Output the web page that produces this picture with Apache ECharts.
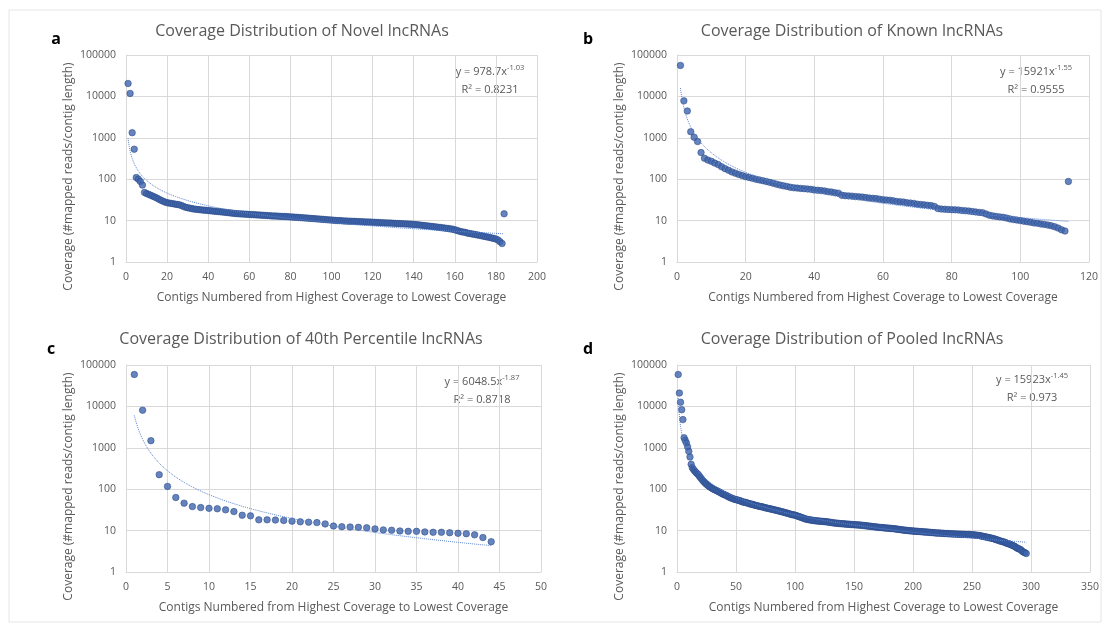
<!DOCTYPE html>
<html>
<head>
<meta charset="utf-8">
<title>Coverage Distribution of lncRNAs</title>
<script src="https://cdn.jsdelivr.net/npm/echarts@6/dist/echarts.min.js"></script>
<style>
html, body { margin: 0; padding: 0; background: #fff; }
#chart { width: 1102px; height: 624px; }
</style>
</head>
<body>
<div id="chart"></div>
<script>
// coverage values, contig 1..N
const novel = [20500, 11800, 1330, 530, 110, 100, 88, 72, 48, 45,
  43, 41, 39, 37, 35, 33, 31, 29.5, 28, 27,
  26.5, 26, 25.5, 25, 24.5, 24, 23, 22, 21, 20.5,
  20, 19.5, 19, 18.8, 18.5, 18.3, 18.1, 17.9, 17.7, 17.5,
  17.3, 17.1, 16.9, 16.7, 16.5, 16.3, 16.1, 15.9, 15.7, 15.5,
  15.3, 15.1, 14.9, 14.7, 14.6, 14.5, 14.4, 14.3, 14.2, 14.1,
  14.0, 13.9, 13.8, 13.7, 13.6, 13.5, 13.4, 13.3, 13.2, 13.1,
  13.0, 12.9, 12.9, 12.8, 12.7, 12.6, 12.6, 12.5, 12.4, 12.3,
  12.2, 12.1, 12.0, 11.9, 11.8, 11.7, 11.6, 11.5, 11.4, 11.3,
  11.2, 11.1, 11.0, 10.9, 10.8, 10.7, 10.6, 10.5, 10.4, 10.3,
  10.2, 10.1, 10.0, 10.0, 9.9, 9.8, 9.8, 9.7, 9.7, 9.6,
  9.6, 9.5, 9.5, 9.4, 9.4, 9.3, 9.3, 9.2, 9.2, 9.1,
  9.1, 9.0, 9.0, 8.9, 8.9, 8.8, 8.8, 8.7, 8.7, 8.6,
  8.6, 8.5, 8.5, 8.4, 8.4, 8.3, 8.3, 8.2, 8.2, 8.1,
  8.0, 7.9, 7.8, 7.7, 7.6, 7.5, 7.4, 7.3, 7.2, 7.1,
  7.0, 6.9, 6.8, 6.7, 6.6, 6.5, 6.4, 6.3, 6.2, 6.0,
  5.8, 5.6, 5.4, 5.3, 5.2, 5.0, 4.9, 4.8, 4.7, 4.6,
  4.5, 4.4, 4.3, 4.2, 4.1, 4.0, 3.9, 3.8, 3.7, 3.6,
  3.4, 3.1, 2.8, 14.6];

const known = [56000, 7800, 4450, 1400, 1030, 810, 440, 320, 290, 270,
  245, 225, 200, 180, 165, 150, 140, 130, 122, 115,
  110, 105, 100, 96, 92, 88, 84, 80, 76, 72,
  69, 67, 64, 62, 61, 60, 59, 58, 57, 55,
  54, 53, 52, 50, 49, 47, 46, 41, 40, 39.5,
  39, 38, 37.5, 37, 36, 35, 34.5, 34, 33, 32,
  31.5, 31, 30, 29, 28.5, 28, 27, 26.5, 26, 25,
  24.5, 24, 23.5, 23, 22, 19.5, 19, 18.8, 18.6, 18.4,
  18.2, 18, 17.6, 17.3, 17, 16.6, 16.2, 15.8, 15.5, 14.5,
  13.5, 13, 12.6, 12.3, 12, 11.5, 11, 10.6, 10.3, 10,
  9.7, 9.4, 9.1, 8.8, 8.6, 8.3, 8.1, 7.8, 7.5, 7.1,
  6.6, 6.0, 5.6, 88];

const pct40 = [59000, 8100, 1490, 224, 117, 63, 46, 38, 36, 34.5,
  33.7, 31.7, 28.8, 23.5, 22.7, 18.2, 18.2, 18, 17.6, 16.9,
  16.3, 16, 15.6, 14.5, 12.9, 12.4, 12.2, 12, 11.7, 11,
  10.4, 10.2, 9.8, 9.6, 9.6, 9.3, 9.1, 9.1, 8.9, 8.6,
  8.4, 7.9, 6.8, 5.4];

const pooled = [59000, 21000, 12600, 8300, 4800, 1750, 1500, 1300, 1050, 820,
  600, 400, 330, 300, 275, 255, 240, 225, 205, 190,
  175, 160, 150, 140, 132, 125, 118, 113, 108, 104,
  100, 97, 94, 91, 88, 85, 82, 79, 76, 74,
  72, 70, 67, 65, 63, 61, 60, 58, 57, 56,
  55, 54, 53, 52, 50, 49, 48.5, 48, 47, 46,
  45, 44, 43.5, 43, 42, 41, 40.5, 40, 39, 38.5,
  38, 37.5, 37, 36, 35.5, 35, 34.5, 34, 33.5, 33,
  32.5, 32, 31.5, 31, 30.5, 30, 29.5, 29, 28.5, 28,
  27.5, 27, 26.5, 26, 25.5, 25, 24.5, 24.2, 24, 23.5,
  23, 22.5, 22, 21.5, 21, 20.5, 20, 19.5, 19, 18.8,
  18.5, 18.3, 18.1, 17.9, 17.7, 17.5, 17.3, 17.2, 17.1, 17,
  16.9, 16.8, 16.7, 16.6, 16.5, 16.4, 16.3, 16.1, 16, 15.8,
  15.6, 15.5, 15.3, 15.2, 15.1, 15, 14.9, 14.8, 14.7, 14.6,
  14.6, 14.5, 14.4, 14.3, 14.3, 14.2, 14.1, 14.0, 14.0, 13.9,
  13.8, 13.8, 13.7, 13.7, 13.6, 13.5, 13.4, 13.3, 13.2, 13.1,
  13.0, 12.9, 12.8, 12.7, 12.6, 12.5, 12.4, 12.3, 12.2, 12.1,
  12.0, 11.9, 11.9, 11.8, 11.7, 11.6, 11.6, 11.5, 11.4, 11.4,
  11.3, 11.2, 11.2, 11.1, 11.0, 10.9, 10.8, 10.7, 10.6, 10.5,
  10.4, 10.3, 10.2, 10.2, 10.1, 10.0, 9.9, 9.9, 9.8, 9.8,
  9.7, 9.7, 9.6, 9.6, 9.5, 9.5, 9.4, 9.4, 9.3, 9.3,
  9.2, 9.2, 9.1, 9.1, 9.0, 9.0, 8.9, 8.9, 8.8, 8.8,
  8.7, 8.7, 8.7, 8.6, 8.6, 8.6, 8.5, 8.5, 8.5, 8.4,
  8.4, 8.4, 8.3, 8.3, 8.3, 8.3, 8.2, 8.2, 8.2, 8.2,
  8.1, 8.1, 8.1, 8.1, 8.0, 8.0, 8.0, 8.0, 7.9, 7.9,
  7.9, 7.8, 7.8, 7.7, 7.7, 7.6, 7.5, 7.4, 7.3, 7.2,
  7.1, 7.0, 6.9, 6.8, 6.7, 6.6, 6.5, 6.4, 6.3, 6.1,
  6.0, 5.9, 5.7, 5.6, 5.5, 5.4, 5.3, 5.2, 5.0, 4.9,
  4.8, 4.7, 4.6, 4.4, 4.3, 4.2, 4.0, 3.8, 3.7, 3.6,
  3.5, 3.3, 3.1, 3.0, 2.9, 2.8];

const panels = [novel, known, pct40, pooled];
const titles = ['Coverage Distribution of Novel lncRNAs', 'Coverage Distribution of Known lncRNAs',
  'Coverage Distribution of 40th Percentile lncRNAs', 'Coverage Distribution of Pooled lncRNAs'];
const letters = ['a', 'b', 'c', 'd'];
const xMax = [200, 120, 50, 350];
const xStep = [20, 20, 5, 50];
// trendline labels as printed on the figure
const eqCoef = [978.7, 15921, 6048.5, 15923];
const eqPow = ['-1.03', '-1.55', '-1.87', '-1.45'];
const eqR2 = ['0.8231', '0.9555', '0.8718', '0.973'];

const xName = 'Contigs Numbered from Highest Coverage to Lowest Coverage';
const yName = 'Coverage (#mapped reads/contig length)';
const font = "'Open Sans', 'Liberation Sans', sans-serif";
const grey = '#595959';

// pixel layout of the four panels
const boxes = [
  { left: 126, top: 55, width: 411, height: 207, tx: 302, ty: 23, lx: 56, ly: 31, ex: 490, ey: 63 },
  { left: 677, top: 55, width: 412, height: 207, tx: 852, ty: 23, lx: 588, ly: 31, ex: 1036, ey: 63 },
  { left: 126, top: 365, width: 415, height: 207, tx: 301, ty: 331, lx: 51, ly: 341, ex: 482, ey: 373 },
  { left: 677, top: 365, width: 415, height: 207, tx: 852, ty: 331, lx: 588, ly: 341, ex: 1032, ey: 371 }
];

// power trendline y = a*x^b with the printed a; b from the log-log centroid of the points
function powerTrend(vals, a) {
  let n = vals.length, sx = 0, sy = 0;
  vals.forEach((v, i) => { sx += Math.log(i + 1); sy += Math.log(v); });
  const b = (sy / n - Math.log(a)) / (sx / n);
  const pts = [];
  for (let k = 0; k <= 200; k++) {
    const x = Math.exp(Math.log(n) * k / 200);
    pts.push([x, a * Math.pow(x, b)]);
  }
  return pts;
}

const grid = [], xAxis = [], yAxis = [], series = [], title = [], graphic = [];

graphic.push({
  type: 'rect', silent: true, z: -1,
  shape: { x: 9, y: 10, width: 1092, height: 612 },
  style: { fill: 'none', stroke: '#e6e6e6', lineWidth: 1 }
});

panels.forEach((vals, i) => {
  const b = boxes[i];
  grid.push({ left: b.left, top: b.top, width: b.width, height: b.height, containLabel: false });
  xAxis.push({
    type: 'value', gridIndex: i, min: 0, max: xMax[i], interval: xStep[i],
    name: xName, nameLocation: 'middle', nameGap: 30,
    nameTextStyle: { fontSize: 12, color: grey, fontFamily: font },
    axisLine: { show: true, lineStyle: { color: '#d9d9d9' } },
    axisTick: { show: false },
    axisLabel: { fontSize: 10.5, color: grey, fontFamily: font, margin: 10 },
    splitLine: { show: true, lineStyle: { color: '#d9d9d9' } }
  });
  yAxis.push({
    type: 'log', logBase: 10, gridIndex: i, min: 1, max: 100000,
    name: yName, nameLocation: 'middle', nameGap: 51,
    nameTextStyle: { fontSize: 12, color: grey, fontFamily: font, padding: [0, 36, 0, 0] },
    axisLine: { show: true, lineStyle: { color: '#d9d9d9' } },
    axisTick: { show: false },
    axisLabel: { fontSize: 10.5, color: grey, fontFamily: font, margin: 10,
      formatter: v => String(Math.round(v)) },
    splitLine: { show: true, lineStyle: { color: '#d9d9d9' } }
  });
  series.push({
    type: 'scatter', xAxisIndex: i, yAxisIndex: i,
    symbol: 'circle', symbolSize: 6.5,
    itemStyle: { color: '#3F65AE', borderColor: '#2B4A85', borderWidth: 0.7 },
    data: vals.map((v, k) => [k + 1, v]),
    z: 3
  });
  series.push({
    type: 'line', xAxisIndex: i, yAxisIndex: i,
    showSymbol: false, silent: true, smooth: false,
    lineStyle: { color: '#5B84CF', width: 1, type: 'dotted' },
    data: powerTrend(vals, eqCoef[i]),
    z: 4
  });
  title.push({
    text: titles[i], left: b.tx, top: b.ty, textAlign: 'center', padding: 0,
    textStyle: { fontSize: 16, fontWeight: 'normal', color: grey, fontFamily: font }
  });
  graphic.push({
    type: 'text', x: b.lx, y: b.ly, silent: true,
    style: { text: letters[i], fill: '#000', fontSize: 16, fontWeight: 'bold',
      fontFamily: font, align: 'center', verticalAlign: 'top' }
  });
  graphic.push({
    type: 'text', x: b.ex, y: b.ey, silent: true,
    style: {
      text: 'y = ' + eqCoef[i] + 'x{s|' + eqPow[i] + '}\nR² = ' + eqR2[i],
      fill: grey, fontSize: 11, fontFamily: font, lineHeight: 18,
      align: 'center', verticalAlign: 'top',
      rich: { s: { fontSize: 7.5, fill: grey, fontFamily: font, padding: [0, 0, 8, 0] } }
    }
  });
});

const chart = echarts.init(document.getElementById('chart'));
chart.setOption({
  backgroundColor: '#fff',
  animation: false,
  title: title,
  grid: grid,
  xAxis: xAxis,
  yAxis: yAxis,
  series: series,
  graphic: graphic
});
</script>
</body>
</html>
